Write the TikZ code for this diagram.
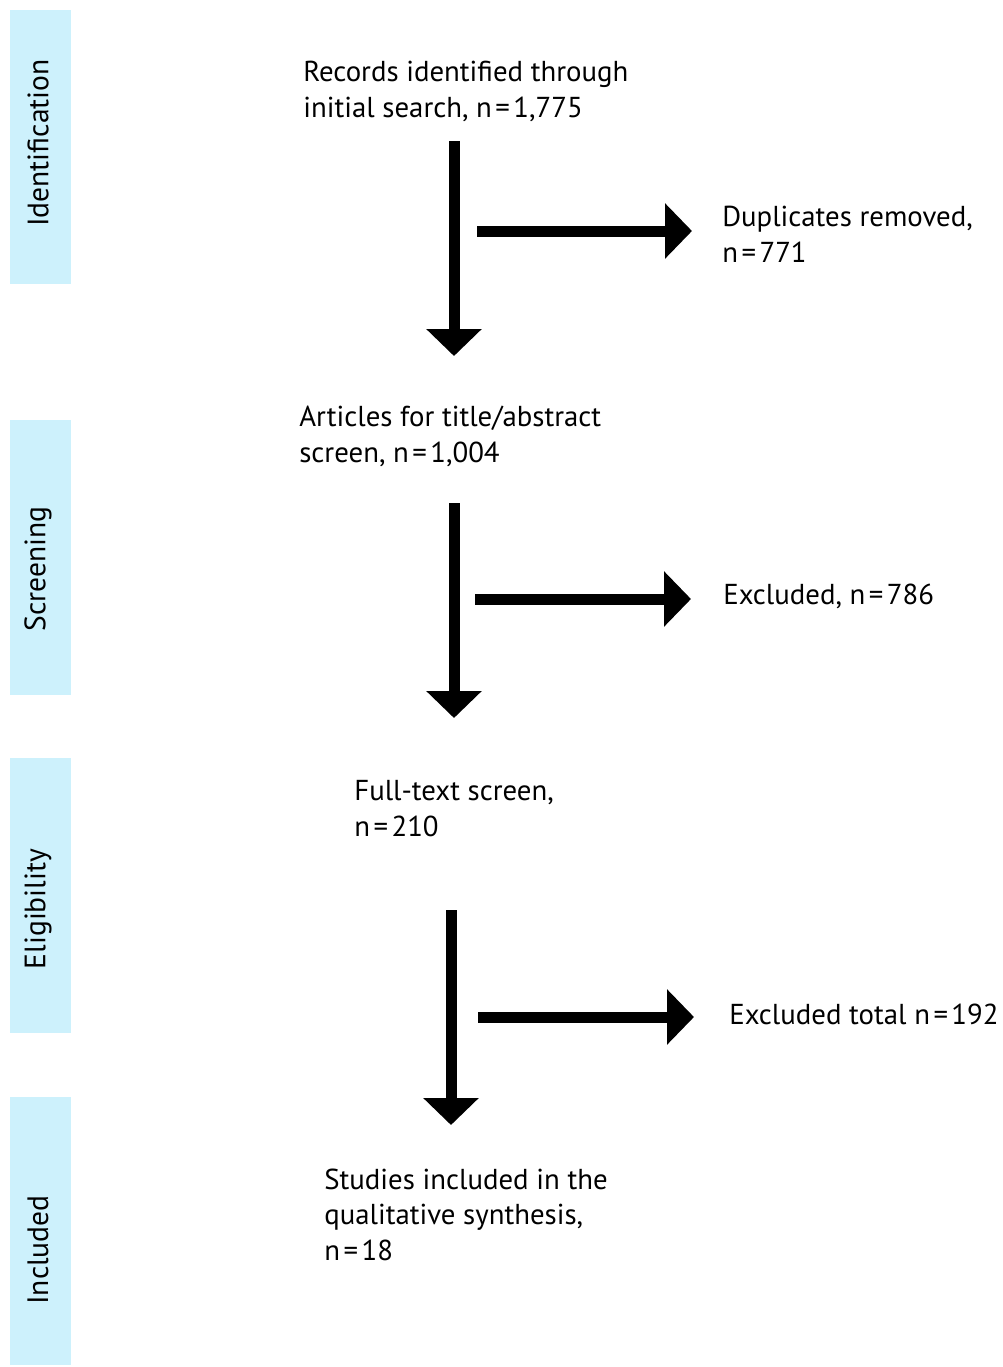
\documentclass[tikz,border=0pt]{standalone}
\usepackage{fontspec}
\setmainfont{PT Sans}
\usetikzlibrary{arrows.meta}

\definecolor{stagecol}{RGB}{205,241,252}

\newcommand{\eqn}{\kern0.12em=\kern0.12em}

\tikzset{
    stage/.style={fill=stagecol, draw=none},
    stagelabel/.style={rotate=90, font=\fontsize{16.8}{20}\selectfont},
    flowtext/.style={anchor=base west, align=left, inner sep=0pt,
        font=\fontsize{16.4}{20}\selectfont},
    flowarrow/.style={line width=0.22cm, -{Triangle[length=0.54cm, width=1.08cm]}}
}

\begin{document}
\begin{tikzpicture}[x=0.02cm, y=-0.02cm]

    \useasboundingbox (0,0) rectangle (1002,1367);

    % Stage bars
    \fill[stage] (10,10) rectangle (71,284);
    \fill[stage] (10,420) rectangle (71,695);
    \fill[stage] (10,758) rectangle (71,1033);
    \fill[stage] (10,1097) rectangle (71,1365);

    % Stage labels
    \node[stagelabel] (identification) at (38,143) {Identification};
    \node[stagelabel] (screening) at (38,569) {Screening};
    \node[stagelabel] (eligibility) at (38,909) {Eligibility};
    \node[stagelabel] (included) at (38,1250) {Included};

    % Boxes of text (placed at the baseline of the last line)
    \node[flowtext] (records) at (303,117) {Records identified through\\initial search, n\eqn 1,775};
    \node[flowtext] (duplicates) at (722,262) {Duplicates removed,\\n\eqn 771};
    \node[flowtext] (articles) at (299,462) {Articles for title/abstract\\screen, n\eqn 1,004};
    \node[flowtext] (excluded) at (723,604) {Excluded, n\eqn 786};
    \node[flowtext] (fulltext) at (354,836) {Full-text screen,\\n\eqn 210};
    \node[flowtext] (exclutotal) at (729,1024) {Excluded total n\eqn 192};
    \node[flowtext] (studies) at (324,1260) {Studies included in the\\qualitative synthesis,\\n\eqn 18};

    % Arrow ends
    \coordinate (v1a) at (454,141);
    \coordinate (v1b) at (454,356);
    \coordinate (h1a) at (477,231);
    \coordinate (h1b) at (692,231);
    \coordinate (v2a) at (454,503);
    \coordinate (v2b) at (454,718);
    \coordinate (h2a) at (475,599);
    \coordinate (h2b) at (691,599);
    \coordinate (v3a) at (451,910);
    \coordinate (v3b) at (451,1125);
    \coordinate (h3a) at (478,1017);
    \coordinate (h3b) at (694,1017);

    % Arrows
    \draw[flowarrow] (v1a) -- (v1b);
    \draw[flowarrow] (h1a) -- (h1b);
    \draw[flowarrow] (v2a) -- (v2b);
    \draw[flowarrow] (h2a) -- (h2b);
    \draw[flowarrow] (v3a) -- (v3b);
    \draw[flowarrow] (h3a) -- (h3b);

\end{tikzpicture}
\end{document}
